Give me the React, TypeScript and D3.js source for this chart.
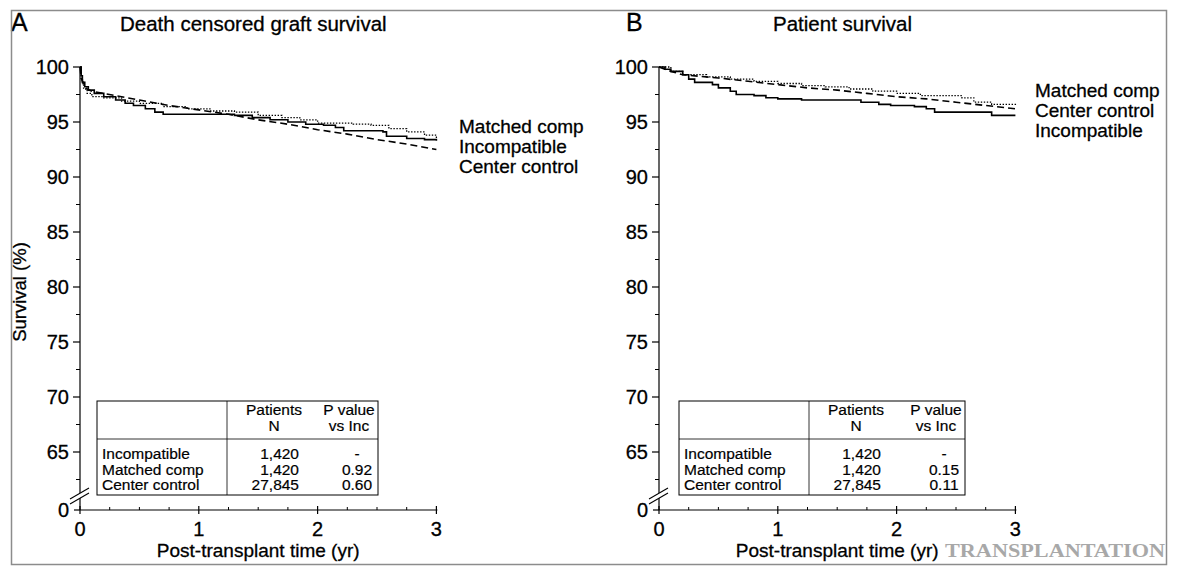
import React from "react";
import * as d3 from "d3";

// Kaplan-Meier estimates, [years, survival %]
const graftIncompatible: [number, number][] = [
  [0, 100], [0.01, 99.2], [0.02, 98.6], [0.04, 98.2], [0.07, 97.9], [0.12, 97.6], [0.2, 97.3],
  [0.3, 97.0], [0.38, 96.7], [0.45, 96.5], [0.55, 96.2], [0.63, 95.9], [0.7, 95.7], [1.3, 95.6],
  [1.45, 95.4], [1.6, 95.2], [1.75, 95.0], [1.9, 94.8], [2.05, 94.7], [2.15, 94.5], [2.22, 94.2],
  [2.55, 94.1], [2.58, 93.7], [2.75, 93.5], [2.9, 93.4], [3.0, 93.3],
];
const graftMatched: [number, number][] = [
  [0, 100], [0.01, 98.8], [0.03, 98.0], [0.06, 97.6], [0.1, 97.3], [0.2, 97.2], [0.35, 96.9],
  [0.5, 96.7], [0.7, 96.4], [0.9, 96.2], [1.1, 96.0], [1.3, 95.9], [1.5, 95.6], [1.7, 95.4],
  [1.85, 95.2], [2.0, 94.9], [2.3, 94.8], [2.45, 94.7], [2.6, 94.4], [2.75, 94.1], [2.9, 93.8],
  [3.0, 93.5],
];
const graftCenter: [number, number][] = [
  [0, 100], [0.01, 99.0], [0.03, 98.4], [0.06, 98.0], [0.1, 97.8], [0.3, 97.4], [0.5, 97.0],
  [0.75, 96.5], [1.0, 96.1], [1.25, 95.7], [1.5, 95.2], [1.75, 94.8], [2.0, 94.3], [2.25, 93.9],
  [2.5, 93.4], [2.75, 93.0], [3.0, 92.5],
];

const patientIncompatible: [number, number][] = [
  [0, 100], [0.05, 99.8], [0.1, 99.6], [0.2, 99.3], [0.25, 98.9], [0.3, 98.6], [0.45, 98.4],
  [0.5, 98.1], [0.6, 97.8], [0.65, 97.5], [0.8, 97.4], [0.9, 97.2], [1.0, 97.1], [1.2, 97.0],
  [1.55, 97.0], [1.7, 96.8], [1.85, 96.6], [1.95, 96.5], [2.15, 96.4], [2.25, 96.2], [2.32, 95.9],
  [2.7, 95.9], [2.8, 95.6], [3.0, 95.6],
];
const patientMatched: [number, number][] = [
  [0, 100], [0.1, 99.6], [0.2, 99.3], [0.4, 99.1], [0.6, 98.9], [0.8, 98.7], [1.0, 98.5],
  [1.2, 98.3], [1.4, 98.2], [1.6, 98.0], [1.8, 97.8], [2.0, 97.6], [2.2, 97.4], [2.4, 97.4],
  [2.55, 97.2], [2.65, 96.8], [2.8, 96.6], [3.0, 96.4],
];
const patientCenter: [number, number][] = [
  [0, 100], [0.1, 99.6], [0.2, 99.3], [0.5, 99.0], [0.75, 98.7], [1.0, 98.4], [1.25, 98.1],
  [1.5, 97.9], [1.75, 97.6], [2.0, 97.3], [2.25, 97.1], [2.5, 96.8], [2.75, 96.5], [3.0, 96.2],
];

const yTicks = [65, 70, 75, 80, 85, 90, 95, 100];
const yMinorTicks = [62.5, 67.5, 72.5, 77.5, 82.5, 87.5, 92.5, 97.5];
const xTicks = [0, 1, 2, 3];
const xMinorTicks = [0.25, 0.5, 0.75, 1.25, 1.5, 1.75, 2.25, 2.5, 2.75];

const groupNames = ["Incompatible", "Matched comp", "Center control"];
const patientCounts = ["1,420", "1,420", "27,845"];
const graftPValues = ["-", "0.92", "0.60"];
const patientPValues = ["-", "0.15", "0.11"];

const graftLegendOrder = ["Matched comp", "Incompatible", "Center control"];
const patientLegendOrder = ["Matched comp", "Center control", "Incompatible"];

const FONT = "'Liberation Sans', Arial, Helvetica, sans-serif";

type Series = { data: [number, number][]; style: "solid" | "dotted" | "dashed" };

type PanelProps = {
  x0: number;
  letter: string;
  letterX: number;
  title: string;
  titleX: number;
  yLabel?: string;
  series: Series[];
  legend: string[];
  legendX: number;
  legendY: number;
  pValues: string[];
  tableX: number;
  tableW: number;
};

const Y_TOP = 67;
const Y_65 = 452;
const Y_ZERO = 510;
const YEAR_PX = 118.8;

// slight stroke to give the text the heavier weight of the printed figure
const heavy = { stroke: "#000", strokeWidth: 0.3 };

function Panel(p: PanelProps) {
  const x = d3.scaleLinear().domain([0, 3]).range([p.x0, p.x0 + 3 * YEAR_PX]);
  const y = d3.scaleLinear().domain([65, 100]).range([Y_65, Y_TOP]);

  const stepLine = d3
    .line<[number, number]>()
    .x((d) => x(d[0]))
    .y((d) => y(d[1]))
    .curve(d3.curveStepAfter);
  const smoothLine = d3
    .line<[number, number]>()
    .x((d) => x(d[0]))
    .y((d) => y(d[1]))
    .curve(d3.curveLinear);

  const styles: Record<string, any> = {
    solid: { strokeWidth: 1.6, strokeDasharray: "none" },
    dotted: { strokeWidth: 1.3, strokeDasharray: "1.4,1.6" },
    dashed: { strokeWidth: 1.6, strokeDasharray: "7,4" },
  };

  const tb = { top: 401, bottom: 495, div: 439 };
  const tl = p.tableX;
  const tw = p.tableW;
  const vdiv = tl + 130;
  const nRight = tl + 202;
  const patCenter = tl + 177;
  const pHeadCenter = tl + tw - 29;
  const pCenter = tl + tw - 21;
  const rowY = [459, 474.5, 490];

  return (
    <g fontFamily={FONT} fill="#000">
      <text x={p.letterX} y={31} fontSize={25} {...heavy}>{p.letter}</text>
      <text x={p.titleX} y={31} fontSize={20.5} {...heavy}>{p.title}</text>
      {p.yLabel && (
        <text
          transform={`translate(${26},${292}) rotate(-90)`}
          textAnchor="middle"
          fontSize={18.5}
          {...heavy}
        >
          {p.yLabel}
        </text>
      )}

      {/* y axis with break */}
      <line x1={p.x0} x2={p.x0} y1={Y_TOP} y2={Y_ZERO} stroke="#000" strokeWidth={1.2} />
      {yTicks.map((t) => (
        <g key={"yt" + t}>
          <line x1={p.x0 - 7} x2={p.x0} y1={y(t)} y2={y(t)} stroke="#000" strokeWidth={1.2} />
          <text x={p.x0 - 11} y={y(t)} dy="0.36em" textAnchor="end" fontSize={20} {...heavy}>{t}</text>
        </g>
      ))}
      {yMinorTicks.map((t) => (
        <line key={"ym" + t} x1={p.x0 - 4} x2={p.x0} y1={y(t)} y2={y(t)} stroke="#000" strokeWidth={1} />
      ))}
      <polygon
        points={`${p.x0 - 10},${499} ${p.x0 + 9},${488} ${p.x0 + 9},${493} ${p.x0 - 10},${504}`}
        fill="#fff"
      />
      <line x1={p.x0 - 10} y1={499} x2={p.x0 + 9} y2={488} stroke="#000" strokeWidth={1.1} />
      <line x1={p.x0 - 10} y1={504} x2={p.x0 + 9} y2={493} stroke="#000" strokeWidth={1.1} />
      <line x1={p.x0 - 6} x2={p.x0} y1={Y_ZERO} y2={Y_ZERO} stroke="#000" strokeWidth={1.2} />
      <text x={p.x0 - 11} y={Y_ZERO} dy="0.36em" textAnchor="end" fontSize={20} {...heavy}>0</text>

      {/* x axis */}
      <line x1={p.x0} x2={x(3) + 1} y1={Y_ZERO} y2={Y_ZERO} stroke="#000" strokeWidth={1.2} />
      {xTicks.map((t) => (
        <g key={"xt" + t}>
          <line x1={x(t)} x2={x(t)} y1={Y_ZERO - 4} y2={Y_ZERO + 4} stroke="#000" strokeWidth={1.2} />
          <text x={x(t)} y={536} textAnchor="middle" fontSize={20} {...heavy}>{t}</text>
        </g>
      ))}
      {xMinorTicks.map((t) => (
        <line key={"xm" + t} x1={x(t)} x2={x(t)} y1={Y_ZERO - 3} y2={Y_ZERO} stroke="#000" strokeWidth={1} />
      ))}
      <text x={(x(0) + x(3)) / 2} y={557} textAnchor="middle" fontSize={19} {...heavy}>
        Post-transplant time (yr)
      </text>

      {/* survival curves */}
      {p.series.map((s, i) => (
        <path
          key={"s" + i}
          d={(s.style === "dashed" ? smoothLine : stepLine)(s.data) || ""}
          fill="none"
          stroke="#000"
          {...styles[s.style]}
        />
      ))}

      {/* end-of-curve labels */}
      {p.legend.map((name, i) => (
        <text key={"lg" + i} x={p.legendX} y={p.legendY + i * 20} fontSize={19} {...heavy}>{name}</text>
      ))}

      {/* summary table */}
      <rect x={tl} y={tb.top} width={tw} height={tb.bottom - tb.top} fill="#fff" stroke="#000" strokeWidth={1} />
      <line x1={tl} x2={tl + tw} y1={tb.div} y2={tb.div} stroke="#000" strokeWidth={0.8} />
      <line x1={vdiv} x2={vdiv} y1={tb.top} y2={tb.bottom} stroke="#000" strokeWidth={0.8} />
      <g fontSize={15.5} stroke="#000" strokeWidth={0.2}>
        <text x={patCenter} y={415} textAnchor="middle">Patients</text>
        <text x={patCenter} y={431} textAnchor="middle">N</text>
        <text x={pHeadCenter} y={415} textAnchor="middle">P value</text>
        <text x={pHeadCenter} y={431} textAnchor="middle">vs Inc</text>
        {groupNames.map((g, i) => (
          <g key={"row" + i}>
            <text x={tl + 5} y={rowY[i]}>{g}</text>
            <text x={nRight} y={rowY[i]} textAnchor="end">{patientCounts[i]}</text>
            <text x={pCenter} y={rowY[i]} textAnchor="middle">{p.pValues[i]}</text>
          </g>
        ))}
      </g>
    </g>
  );
}

export default function App() {
  return (
    <svg
      width={1178}
      height={566}
      style={{ position: "absolute", left: 0, top: 0, background: "#fff" }}
    >
      <rect x={0} y={0} width={1178} height={566} fill="#fff" />
      <Panel
        x0={80}
        letter="A"
        letterX={11}
        title="Death censored graft survival"
        titleX={120}
        yLabel="Survival (%)"
        series={[
          { data: graftMatched, style: "dotted" },
          { data: graftCenter, style: "dashed" },
          { data: graftIncompatible, style: "solid" },
        ]}
        legend={graftLegendOrder}
        legendX={459}
        legendY={133}
        pValues={graftPValues}
        tableX={97}
        tableW={281}
      />
      <Panel
        x0={659}
        letter="B"
        letterX={626}
        title="Patient survival"
        titleX={773}
        series={[
          { data: patientMatched, style: "dotted" },
          { data: patientCenter, style: "dashed" },
          { data: patientIncompatible, style: "solid" },
        ]}
        legend={patientLegendOrder}
        legendX={1035}
        legendY={97}
        pValues={patientPValues}
        tableX={679}
        tableW={286}
      />
      <text
        x={945}
        y={557}
        fontFamily="'Liberation Serif', 'Times New Roman', serif"
        fontSize={18}
        fontWeight="bold"
        fill="#a8a8a8"
        textLength={220}
        lengthAdjust="spacingAndGlyphs"
      >
        TRANSPLANTATION
      </text>
      <rect x={11.5} y={10.5} width={1155} height={554} fill="none" stroke="#8c8c8c" strokeWidth={1.5} />
    </svg>
  );
}
